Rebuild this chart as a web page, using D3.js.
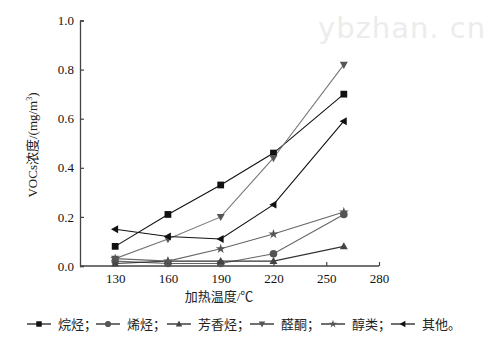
<!DOCTYPE html>
<html><head><meta charset="utf-8">
<script src="https://cdn.jsdelivr.net/npm/d3@7"></script>
<style>body{margin:0;background:#fff}</style>
</head><body><svg id="c" width="498" height="360"></svg>
<script>
const temps = [130, 160, 190, 220, 260];
const alkanes = [0.08, 0.21, 0.33, 0.46, 0.70];
const alkenes = [0.02, 0.01, 0.01, 0.05, 0.21];
const aromatics = [0.01, 0.02, 0.02, 0.02, 0.08];
const aldehydesKetones = [0.03, 0.11, 0.20, 0.44, 0.82];
const alcohols = [0.03, 0.02, 0.07, 0.13, 0.22];
const others = [0.15, 0.12, 0.11, 0.25, 0.59];
const seriesNames = ["烷烃；", "烯烃；", "芳香烃；", "醛酮；", "醇类；", "其他。"];
const xTicks = [130, 160, 190, 220, 250, 280];
const yTicks = [0.0, 0.2, 0.4, 0.6, 0.8, 1.0];

const series = [
  {name: seriesNames[0], v: alkanes, sym: "square", color: "#111", mcolor:"#111"},
  {name: seriesNames[1], v: alkenes, sym: "circle", color: "#666", mcolor:"#555"},
  {name: seriesNames[2], v: aromatics, sym: "up", color: "#333", mcolor:"#444"},
  {name: seriesNames[3], v: aldehydesKetones, sym: "down", color: "#777", mcolor:"#555"},
  {name: seriesNames[4], v: alcohols, sym: "star", color: "#666", mcolor:"#555"},
  {name: seriesNames[5], v: others, sym: "left", color: "#111", mcolor:"#111"}
];

const svg = d3.select("#c");
const x = d3.scaleLinear().domain([110, 280]).range([80, 379]);
const y = d3.scaleLinear().domain([0, 1]).range([266, 20.5]);
const serif = "'Liberation Serif','Times New Roman',serif";
const cjk = "'Liberation Serif','Noto Sans CJK SC',serif";

// watermark
svg.append("text").attr("x", 318).attr("y", 38).attr("font-family", "'DejaVu Sans',sans-serif")
  .attr("font-size", 29).attr("fill", "#ececec").attr("letter-spacing", 1).text("ybzhan. cn");

const ax = svg.append("g").attr("transform", "translate(0,266)")
  .call(d3.axisBottom(x).tickValues(xTicks).tickSize(-4).tickPadding(8).tickFormat(d3.format("d")));
const ay = svg.append("g").attr("transform", "translate(80,0)")
  .call(d3.axisLeft(y).tickValues(yTicks).tickSize(-4).tickPadding(6).tickFormat(d3.format(".1f")));
[ax, ay].forEach(a => {
  a.select(".domain").attr("stroke", "#444").attr("stroke-width", 1.3);
  a.selectAll(".tick line").attr("stroke", "#444").attr("stroke-width", 1.2);
  a.selectAll("text").attr("font-family", serif).attr("font-size", 13).attr("fill", "#111");
});
ax.select(".domain").attr("d", "M80,0H379");

const symMap = {square: d3.symbolSquare, circle: d3.symbolCircle, star: d3.symbolStar};
function marker(g, s, cx, cy, size) {
  if (s.sym === "up" || s.sym === "down" || s.sym === "left") {
    const r = size;
    let pts;
    if (s.sym === "up") pts = [[0,-r],[r*0.95,r*0.7],[-r*0.95,r*0.7]];
    else if (s.sym === "down") pts = [[0,r],[r*0.95,-r*0.7],[-r*0.95,-r*0.7]];
    else pts = [[-r,0],[r*0.7,-r*0.95],[r*0.7,r*0.95]];
    g.append("path").attr("d", "M" + pts.map(p => [cx+p[0], cy+p[1]].join(",")).join("L") + "Z").attr("fill", s.mcolor);
  } else {
    const area = s.sym === "star" ? size*size*1.7 : size*size*2.6;
    g.append("path").attr("d", d3.symbol().type(symMap[s.sym]).size(area)())
      .attr("transform", `translate(${cx},${cy})`).attr("fill", s.mcolor);
  }
}

const line = d3.line().x((d, i) => x(temps[i])).y(d => y(d));
series.forEach(s => {
  svg.append("path").attr("d", line(s.v)).attr("fill", "none").attr("stroke", s.color).attr("stroke-width", 1.1);
});
series.forEach(s => {
  const g = svg.append("g");
  s.v.forEach((d, i) => marker(g, s, x(temps[i]), y(d), 4.2));
});

// axis titles
svg.append("text").attr("x", 219).attr("y", 301).attr("text-anchor", "middle")
  .attr("font-family", cjk).attr("font-size", 13).attr("fill", "#222").text("加热温度/℃");
const yt = svg.append("text").attr("transform", "translate(37,145) rotate(-90)").attr("text-anchor", "middle")
  .attr("font-family", cjk).attr("font-size", 13).attr("fill", "#222");
yt.append("tspan").text("VOCs浓度/(mg/m");
yt.append("tspan").attr("font-size", 8).attr("dy", -5).text("3");
yt.append("tspan").attr("dy", 5).text(")");

// legend
const legX = [27, 96, 167, 250, 321, 391];
series.forEach((s, i) => {
  const g = svg.append("g");
  const x0 = legX[i], ly = 324;
  g.append("line").attr("x1", x0).attr("x2", x0 + 24).attr("y1", ly).attr("y2", ly)
    .attr("stroke", "#111").attr("stroke-width", 1.2);
  marker(g, s, x0 + 12, ly, 3.4);
  g.append("text").attr("x", x0 + 31).attr("y", ly + 5).attr("font-family", cjk)
    .attr("font-size", 13).attr("fill", "#222").text(s.name);
});
</script></body></html>
